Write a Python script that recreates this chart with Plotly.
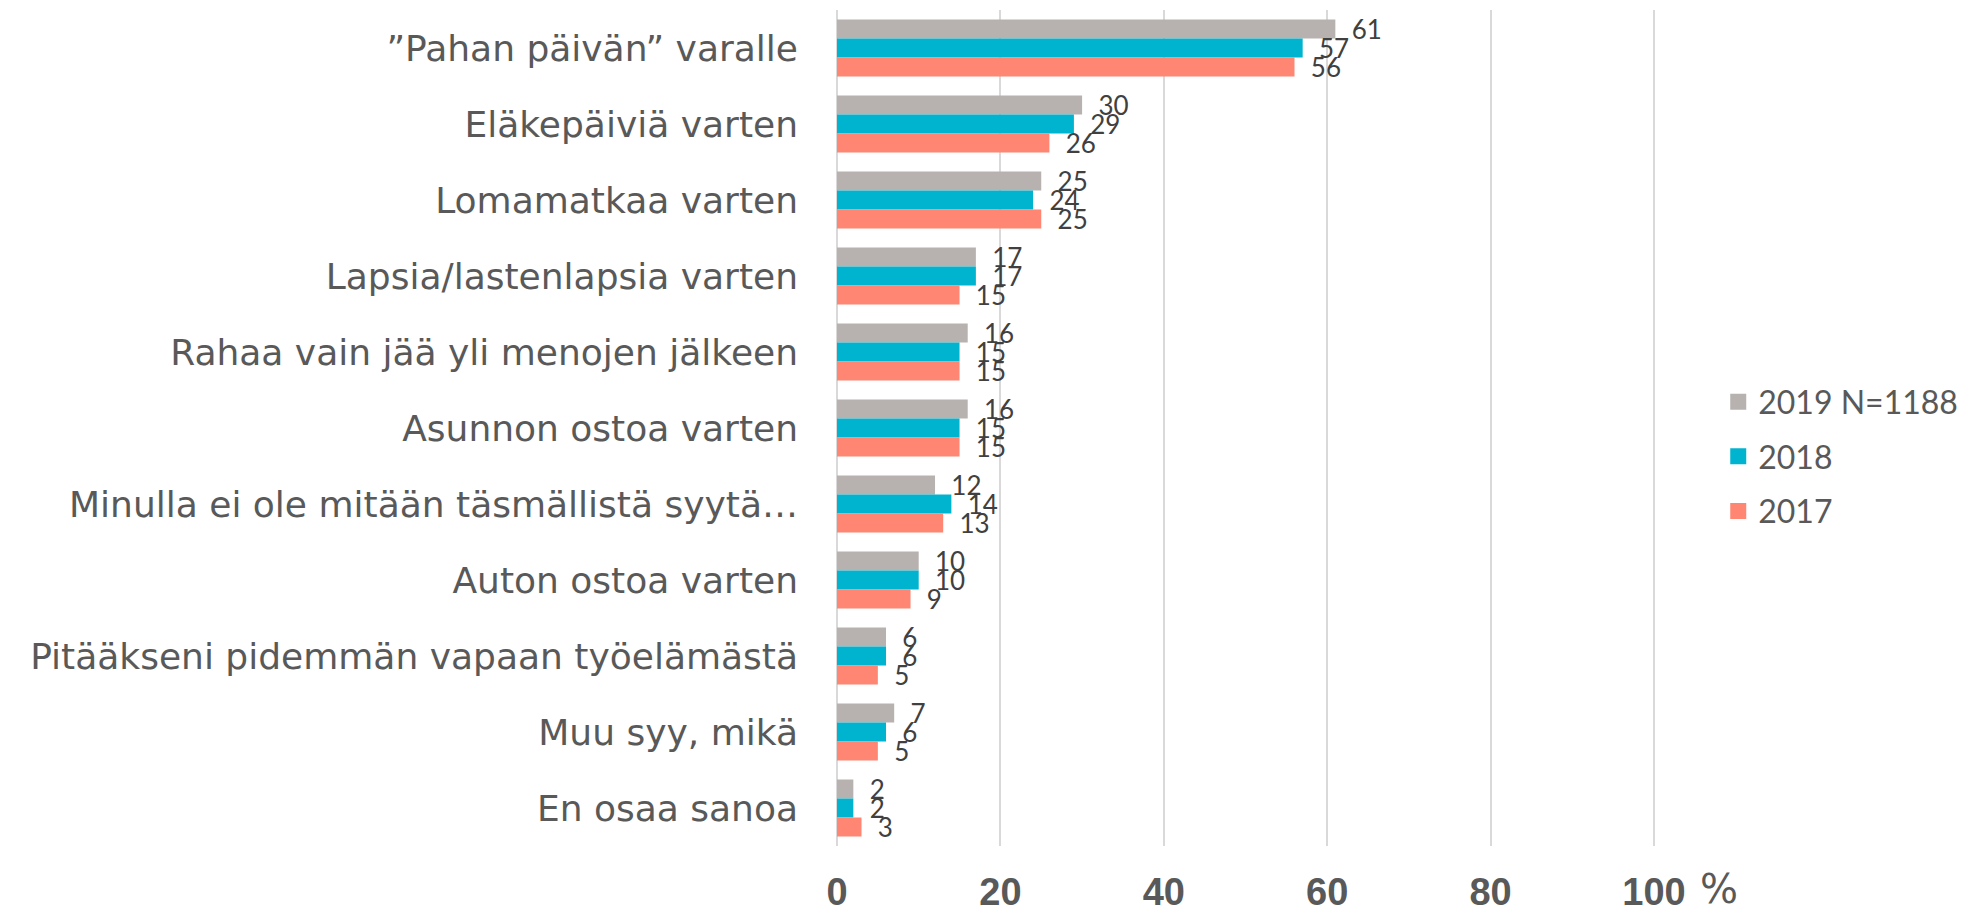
import plotly.graph_objects as go

categories = [
    "”Pahan päivän” varalle",
    "Eläkepäiviä varten",
    "Lomamatkaa varten",
    "Lapsia/lastenlapsia varten",
    "Rahaa vain jää yli menojen jälkeen",
    "Asunnon ostoa varten",
    "Minulla ei ole mitään täsmällistä syytä…",
    "Auton ostoa varten",
    "Pitääkseni pidemmän vapaan työelämästä",
    "Muu syy, mikä",
    "En osaa sanoa",
]
series_names = ["2019 N=1188", "2018", "2017"]
values_2019 = [61, 30, 25, 17, 16, 16, 12, 10, 6, 7, 2]
values_2018 = [57, 29, 24, 17, 15, 15, 14, 10, 6, 6, 2]
values_2017 = [56, 26, 25, 15, 15, 15, 13, 9, 5, 5, 3]
tick_values = [0, 20, 40, 60, 80, 100]
tick_labels = ["0", "20", "40", "60", "80", "100"]

colors = ["#B7B2AF", "#00B4CF", "#FF8673"]
all_values = [values_2019, values_2018, values_2017]

CAT_FONT = "'DejaVu Sans', sans-serif"
NUM_FONT = "Lato, 'Open Sans', sans-serif"
TICK_FONT = "'Liberation Sans', Arial, sans-serif"

fig = go.Figure()
for name, vals, col in zip(series_names, all_values, colors):
    fig.add_trace(go.Bar(
        y=categories, x=vals, name=name, orientation="h",
        marker=dict(color=col, line=dict(width=0)),
        text=vals, texttemplate="\u00a0\u00a0%{x}",
        textposition="outside", constraintext="none", cliponaxis=False,
        textfont=dict(family=NUM_FONT, size=26, color="#404040"),
        showlegend=False, hoverinfo="x+y",
    ))
for i, (name, col) in enumerate(zip(series_names, colors)):
    fig.add_trace(go.Scatter(
        x=[None], y=[None], mode="markers", name=name,
        marker=dict(symbol="square", size=16, color=col),
        legendgroup=f"g{i}", showlegend=True,
    ))

fig.update_layout(
    width=1962, height=914,
    margin=dict(l=837, r=306, t=10, b=68, autoexpand=False),
    barmode="group", bargap=0.25, bargroupgap=0,
    plot_bgcolor="white", paper_bgcolor="white",
    font=dict(family=CAT_FONT, color="#595959"),
    legend=dict(
        x=1.076, y=0.466, xanchor="left", yanchor="middle",
        font=dict(family=NUM_FONT, size=32, color="#595959"),
        tracegroupgap=10, bgcolor="rgba(0,0,0,0)",
    ),
    xaxis=dict(
        range=[0, 100.25], tickvals=tick_values, ticktext=tick_labels,
        showgrid=True, gridcolor="#D9D9D9", gridwidth=2,
        zeroline=True, zerolinecolor="#D9D9D9", zerolinewidth=2,
        showline=False, ticks="", ticklabelstandoff=20, automargin=False,
        tickfont=dict(family=TICK_FONT, size=38, color="#595959", weight="bold"),
    ),
    yaxis=dict(
        autorange="reversed", showgrid=False, showline=False, zeroline=False,
        ticks="", ticklabelstandoff=38, automargin=False,
        tickfont=dict(family=CAT_FONT, size=36, color="#595959"),
    ),
    annotations=[dict(
        text="%", xref="x", yref="paper", x=100, y=0,
        xanchor="left", yanchor="bottom", xshift=44, yshift=-68, showarrow=False,
        font=dict(family=CAT_FONT, size=40, color="#595959"),
    )],
)

fig.write_html(
    "out.html",
    config={"displayModeBar": False},
    post_script="document.body.style.margin='0px';document.body.style.overflow='hidden';",
)
